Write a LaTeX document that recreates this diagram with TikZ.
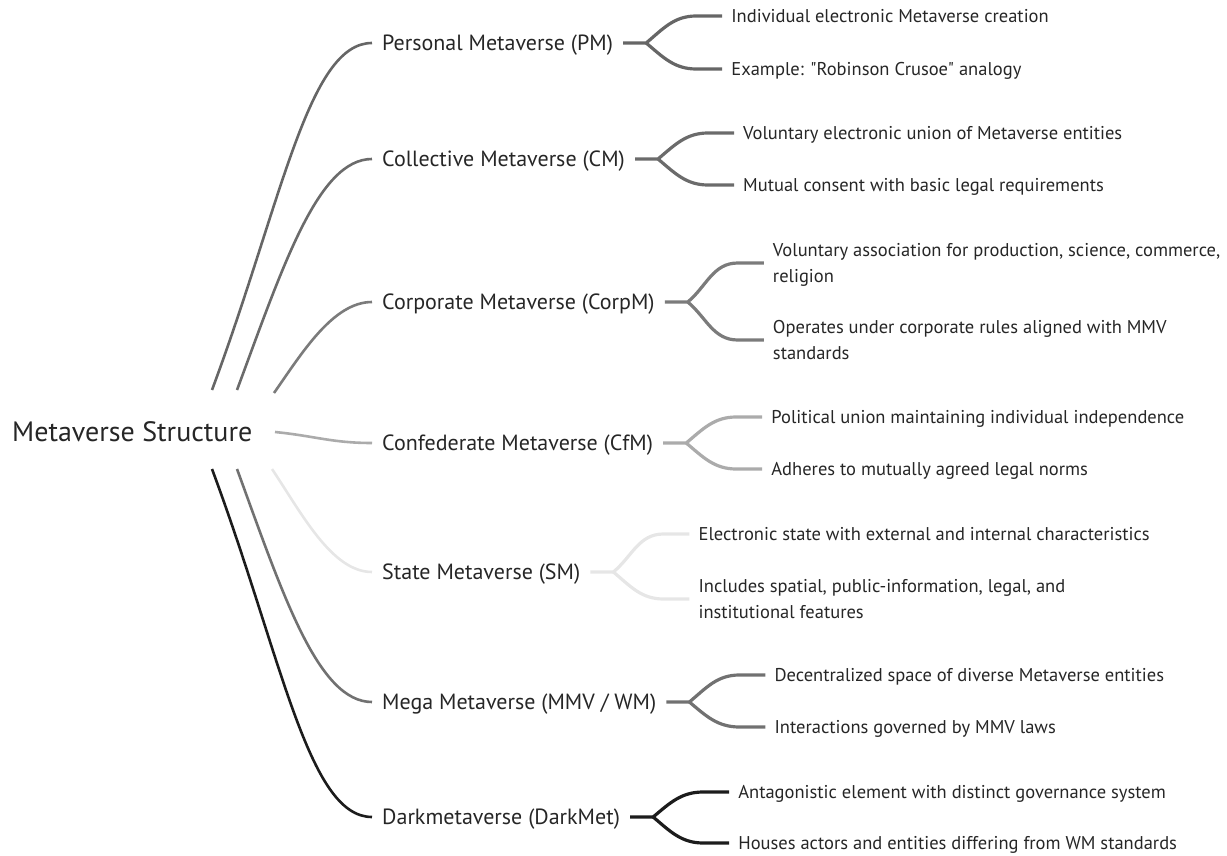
\documentclass[tikz,border=0pt]{standalone}
\usepackage{fontspec}
\setmainfont{PT Sans}[Ligatures=TeXOff]
\usetikzlibrary{calc}
\definecolor{txt}{HTML}{262626}
\definecolor{cpm}{HTML}{666666}
\definecolor{ccm}{HTML}{6B6B6B}
\definecolor{ccorp}{HTML}{7B7B7B}
\definecolor{ccf}{HTML}{ABABAB}
\definecolor{csm}{HTML}{E6E6E6}
\definecolor{cmmv}{HTML}{717171}
\definecolor{cdark}{HTML}{1C1C1C}
\newcommand{\twolines}[2]{\vtop{\baselineskip=25.5pt\hbox{#1}\hbox{#2}}}
\begin{document}
\begin{tikzpicture}[x=1pt,y=1pt,
  rootlbl/.style={anchor=west,inner sep=0pt,text=txt,font=\fontsize{28}{34}\selectfont,text height=19.6pt,text depth=0pt},
  mainlbl/.style={anchor=west,inner sep=0pt,text=txt,font=\fontsize{22}{26}\selectfont,text height=15.4pt,text depth=0pt},
  leaflbl/.style={anchor=west,inner sep=0pt,text=txt,font=\fontsize{18.5}{25.5}\selectfont,text height=13pt,text depth=0pt},
  leaftwo/.style={leaflbl,text depth=25.5pt},
  mc/.style={draw=#1,line width=2.6pt},
  br/.style={draw=#1,line width=3.2pt}]
\useasboundingbox (0,0) rectangle (1227,-856);

\node[rootlbl] (root) at (12,-432) {Metaverse Structure};

\node[mainlbl] (pm) at (382,-43) {Personal Metaverse (PM)};
\node[mainlbl] (cm) at (382,-159) {Collective Metaverse (CM)};
\node[mainlbl] (corp) at (382,-302) {Corporate Metaverse (CorpM)};
\node[mainlbl] (cf) at (382,-443) {Confederate Metaverse (CfM)};
\node[mainlbl] (sm) at (382,-572) {State Metaverse (SM)};
\node[mainlbl] (mmv) at (382,-702) {Mega Metaverse (MMV / WM)};
\node[mainlbl] (dark) at (382,-817) {Darkmetaverse (DarkMet)};

\coordinate (spm) at (212,-390);
\coordinate (scm) at (237,-390);
\coordinate (scorp) at (274,-393);
\coordinate (scf) at (275,-432);
\coordinate (ssm) at (272,-469);
\coordinate (smmv) at (237,-469);
\coordinate (sdark) at (212,-469);

\draw[mc=cpm] (spm) .. controls +(70,188) and +(-64,0) .. ([xshift=-10pt]pm.west);
\draw[mc=ccm] (scm) .. controls +(46,124) and +(-54,0) .. ([xshift=-10pt]cm.west);
\draw[mc=ccorp] (scorp) .. controls +(28,40) and +(-39,0) .. ([xshift=-10pt]corp.west);
\draw[mc=ccf] (scf) .. controls +(40,-4) and +(-40,0) .. ([xshift=-10pt]cf.west);
\draw[mc=csm] (ssm) .. controls +(30,-45) and +(-40,0) .. ([xshift=-10pt]sm.west);
\draw[mc=cmmv] (smmv) .. controls +(46,-126) and +(-54,0) .. ([xshift=-10pt]mmv.west);
\draw[mc=cdark] (sdark) .. controls +(70,-188) and +(-64,0) .. ([xshift=-10pt]dark.west);

\node[leaflbl] (pma) at ($(pm.east)+(118,27)$) {Individual electronic Metaverse creation};
\node[leaflbl] (pmb) at ($(pm.east)+(118,-26)$) {Example: "Robinson Crusoe" analogy};
\node[leaflbl] (cma) at ($(cm.east)+(118,26)$) {Voluntary electronic union of Metaverse entities};
\node[leaflbl] (cmb) at ($(cm.east)+(118,-26)$) {Mutual consent with basic legal requirements};
\node[leaftwo] (corpa) at ($(corp.east)+(118,39)$) {\twolines{Voluntary association for production, science, commerce,}{religion}};
\node[leaftwo] (corpb) at ($(corp.east)+(118,-38)$) {\twolines{Operates under corporate rules aligned with MMV}{standards}};
\node[leaflbl] (cfa) at ($(cf.east)+(118,26)$) {Political union maintaining individual independence};
\node[leaflbl] (cfb) at ($(cf.east)+(118,-26)$) {Adheres to mutually agreed legal norms};
\node[leaflbl] (sma) at ($(sm.east)+(118,38)$) {Electronic state with external and internal characteristics};
\node[leaftwo] (smb) at ($(sm.east)+(118,-27)$) {\twolines{Includes spatial, public-information, legal, and}{institutional features}};
\node[leaflbl] (mmva) at ($(mmv.east)+(118,27)$) {Decentralized space of diverse Metaverse entities};
\node[leaflbl] (mmvb) at ($(mmv.east)+(118,-25)$) {Interactions governed by MMV laws};
\node[leaflbl] (darka) at ($(dark.east)+(118,25)$) {Antagonistic element with distinct governance system};
\node[leaflbl] (darkb) at ($(dark.east)+(118,-26)$) {Houses actors and entities differing from WM standards};

\draw[br=cpm] ([xshift=10pt]pm.east) -- ++(23,0) coordinate (fpm) to[out=40,in=180] ([xshift=-35pt]pma.west) -- ([xshift=-9pt]pma.west);
\draw[br=cpm] (fpm) to[out=-40,in=180] ([xshift=-35pt]pmb.west) -- ([xshift=-9pt]pmb.west);
\draw[br=ccm] ([xshift=10pt]cm.east) -- ++(23,0) coordinate (fcm) to[out=40,in=180] ([xshift=-35pt]cma.west) -- ([xshift=-9pt]cma.west);
\draw[br=ccm] (fcm) to[out=-40,in=180] ([xshift=-35pt]cmb.west) -- ([xshift=-9pt]cmb.west);
\draw[br=ccorp] ([xshift=10pt]corp.east) -- ++(23,0) coordinate (fcorp) to[out=40,in=180] ([xshift=-35pt]corpa.west) -- ([xshift=-9pt]corpa.west);
\draw[br=ccorp] (fcorp) to[out=-40,in=180] ([xshift=-35pt]corpb.west) -- ([xshift=-9pt]corpb.west);
\draw[br=ccf] ([xshift=10pt]cf.east) -- ++(23,0) coordinate (fcf) to[out=40,in=180] ([xshift=-35pt]cfa.west) -- ([xshift=-9pt]cfa.west);
\draw[br=ccf] (fcf) to[out=-40,in=180] ([xshift=-35pt]cfb.west) -- ([xshift=-9pt]cfb.west);
\draw[br=csm] ([xshift=10pt]sm.east) -- ++(23,0) coordinate (fsm) to[out=40,in=180] ([xshift=-35pt]sma.west) -- ([xshift=-9pt]sma.west);
\draw[br=csm] (fsm) to[out=-40,in=180] ([xshift=-35pt]smb.west) -- ([xshift=-9pt]smb.west);
\draw[br=cmmv] ([xshift=10pt]mmv.east) -- ++(23,0) coordinate (fmmv) to[out=40,in=180] ([xshift=-35pt]mmva.west) -- ([xshift=-9pt]mmva.west);
\draw[br=cmmv] (fmmv) to[out=-40,in=180] ([xshift=-35pt]mmvb.west) -- ([xshift=-9pt]mmvb.west);
\draw[br=cdark] ([xshift=10pt]dark.east) -- ++(23,0) coordinate (fdark) to[out=40,in=180] ([xshift=-35pt]darka.west) -- ([xshift=-9pt]darka.west);
\draw[br=cdark] (fdark) to[out=-40,in=180] ([xshift=-35pt]darkb.west) -- ([xshift=-9pt]darkb.west);
\end{tikzpicture}
\end{document}
